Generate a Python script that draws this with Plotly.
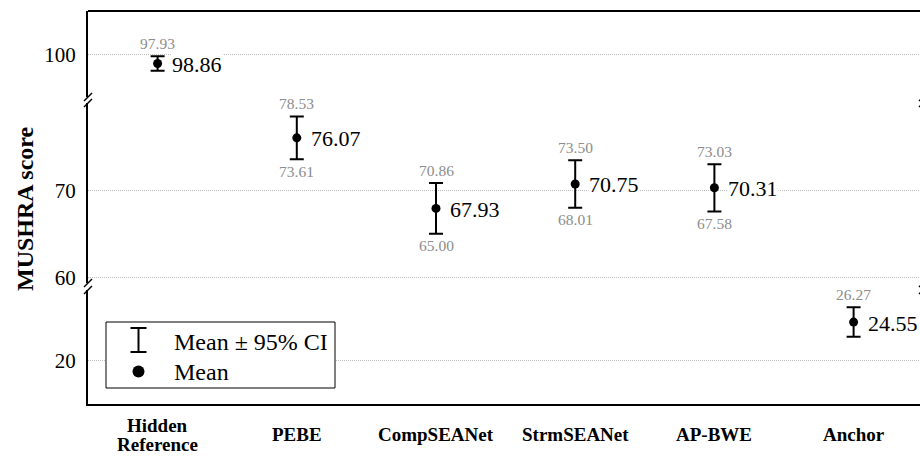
import plotly.graph_objects as go

# ---------------- data ----------------
categories = ["Hidden Reference", "PEBE", "CompSEANet", "StrmSEANet", "AP-BWE", "Anchor"]
tick_text = ["Hidden<br>Reference", "PEBE", "CompSEANet", "StrmSEANet", "AP-BWE", "Anchor"]
means = [98.86, 76.07, 67.93, 70.75, 70.31, 24.55]
ci_low = [97.93, 73.61, 65.00, 68.01, 67.58, 22.83]
ci_high = [99.79, 78.53, 70.86, 73.50, 73.03, 26.27]
upper_labels = ["97.93", "78.53", "70.86", "73.50", "73.03", "26.27"]
lower_labels = [None, "73.61", "65.00", "68.01", "67.58", None]

# broken-axis segments (axis id -> range / ticks)
seg_ranges = {"y3": [94.625, 105.5], "y2": [59.33, 80.09], "y": [14.97, 28.30]}
seg_ticks = {"y3": [100], "y2": [60, 70], "y": [20]}

# ---------------- layout helpers ----------------
W, H = 920, 457
L, T, B = 88, 11, 53
PW = W - L
PH = H - T - B


def px_x(p):
    """window pixel x -> paper x"""
    return (p - L) / PW


def px_y(p):
    """window pixel y -> paper y"""
    return (H - B - p) / PH


SERIF = "Liberation Serif, Times New Roman, serif"


def seg_of(v):
    if v >= 90:
        return "y3"
    if v >= 50:
        return "y2"
    return "y"


fig = go.Figure()
annotations = []
shapes = []

x_idx = list(range(len(categories)))
for seg in ["y", "y2", "y3"]:
    idx = [i for i in x_idx if seg_of(means[i]) == seg]
    if not idx:
        continue
    fig.add_trace(go.Scatter(
        x=idx,
        y=[means[i] for i in idx],
        yaxis=seg,
        mode="markers",
        marker=dict(color="black", size=9),
        error_y=dict(
            type="data", symmetric=False,
            array=[ci_high[i] - means[i] for i in idx],
            arrayminus=[means[i] - ci_low[i] for i in idx],
            color="black", thickness=2, width=7,
        ),
        showlegend=False,
        hoverinfo="skip",
    ))
    for i in idx:
        annotations.append(dict(
            x=i, y=means[i], xref="x", yref=seg, text=f"{means[i]:.2f}",
            showarrow=False, xanchor="left", yanchor="middle", xshift=13, yshift=-1,
            font=dict(family=SERIF, size=22, color="black"), bgcolor="white", borderpad=0,
        ))
        if upper_labels[i]:
            annotations.append(dict(
                x=i, y=ci_high[i], xref="x", yref=seg, text=upper_labels[i],
                showarrow=False, xanchor="center", yanchor="middle", yshift=13,
                font=dict(family=SERIF, size=15.5, color="#8c8c8c"), bgcolor="white", borderpad=0,
            ))
        if lower_labels[i]:
            annotations.append(dict(
                x=i, y=ci_low[i], xref="x", yref=seg, text=lower_labels[i],
                showarrow=False, xanchor="center", yanchor="middle", yshift=-12,
                font=dict(family=SERIF, size=15.5, color="#8c8c8c"), bgcolor="white", borderpad=0,
            ))

# category labels (centered vertically, multi-line tight)
for i, lab in enumerate(tick_text):
    lines = lab.split("<br>")
    n = len(lines)
    for k, line in enumerate(lines):
        cy = 434.5 + (k - (n - 1) / 2) * 19
        annotations.append(dict(
            x=i, y=px_y(cy), xref="x", yref="paper", text=f"<b>{line}</b>",
            showarrow=False, xanchor="center", yanchor="middle",
            font=dict(family=SERIF, size=19, color="black"),
        ))

# y-axis title
annotations.append(dict(
    x=px_x(25), y=px_y(209), xref="paper", yref="paper", text="<b>MUSHRA score</b>",
    textangle=-90, showarrow=False, xanchor="center", yanchor="middle",
    font=dict(family=SERIF, size=24, color="black"),
))

# top spine
shapes.append(dict(type="line", xref="paper", yref="paper", x0=0, x1=1.01, y0=1, y1=1,
                   line=dict(color="black", width=2), layer="above"))

# break marks (left and right spines)
for bx in [88, 923]:
    for by in [97, 103, 283, 290]:
        shapes.append(dict(type="line", xref="paper", yref="paper",
                           x0=px_x(bx - 4), y0=px_y(by + 4), x1=px_x(bx + 4), y1=px_y(by - 4),
                           line=dict(color="black", width=1.5), layer="above"))

# manual legend
shapes.append(dict(type="rect", xref="paper", yref="paper",
                   x0=px_x(106), x1=px_x(335), y0=px_y(388), y1=px_y(322),
                   fillcolor="white", line=dict(color="black", width=1), layer="above"))
lx = 138.5
shapes.append(dict(type="line", xref="paper", yref="paper", x0=px_x(lx), x1=px_x(lx),
                   y0=px_y(352), y1=px_y(328), line=dict(color="black", width=2), layer="above"))
for cy in [328, 352]:
    shapes.append(dict(type="line", xref="paper", yref="paper", x0=px_x(lx - 8), x1=px_x(lx + 8),
                       y0=px_y(cy), y1=px_y(cy), line=dict(color="black", width=2), layer="above"))
shapes.append(dict(type="circle", xref="paper", yref="paper", x0=px_x(lx - 6), x1=px_x(lx + 6),
                   y0=px_y(377.5), y1=px_y(365.5), fillcolor="black", line=dict(color="black", width=0),
                   layer="above"))
for txt, cy in [("Mean ± 95% CI", 341.5), ("Mean", 371.5)]:
    annotations.append(dict(
        x=px_x(172), y=px_y(cy), xref="paper", yref="paper", text=txt,
        showarrow=False, xanchor="left", yanchor="middle",
        font=dict(family=SERIF, size=24, color="black"),
    ))

yaxis_common = dict(
    showgrid=True, gridcolor="#bdbdbd", griddash="1px,1px", gridwidth=1,
    showline=True, linecolor="black", linewidth=2, zeroline=False,
    ticks="", tickfont=dict(family=SERIF, size=21, color="black"),
    anchor="x", ticklabelstandoff=6, fixedrange=True,
)

fig.update_layout(
    width=W, height=H,
    margin=dict(l=L, r=0, t=T, b=B, pad=0),
    paper_bgcolor="white", plot_bgcolor="white",
    xaxis=dict(range=[-0.5, -0.5 + PW / 139.2], showticklabels=False, showgrid=False,
               showline=True, linecolor="black", linewidth=2, zeroline=False, ticks="",
               anchor="y", fixedrange=True),
    yaxis=dict(domain=[0, px_y(290)], range=seg_ranges["y"], tickvals=seg_ticks["y"], **yaxis_common),
    yaxis2=dict(domain=[px_y(283), px_y(103)], range=seg_ranges["y2"], tickvals=seg_ticks["y2"], **yaxis_common),
    yaxis3=dict(domain=[px_y(97), 1], range=seg_ranges["y3"], tickvals=seg_ticks["y3"], **yaxis_common),
    annotations=annotations,
    shapes=shapes,
    showlegend=False,
)

fig.write_html(
    "out.html",
    config={"displayModeBar": False},
    post_script="document.body.style.margin='0';document.body.style.overflow='hidden';",
)
